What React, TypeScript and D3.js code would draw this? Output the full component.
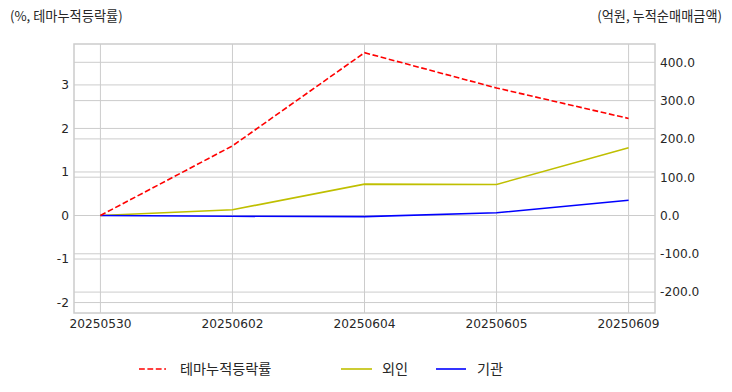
import React from "react";
import * as d3 from "d3";

const categories = ["20250530", "20250602", "20250604", "20250605", "20250609"];
const themeReturn = [0, 1.6, 3.74, 2.93, 2.23];
const foreign = [0, 15, 82, 81, 177];
const institution = [0, -2, -3, 7, 40];
const leftTicks = [-2, -1, 0, 1, 2, 3];
const rightTicks = [-200, -100, 0, 100, 200, 300, 400];
const leftTitle = "(%, 테마누적등락률)";
const rightTitle = "(억원, 누적순매매금액)";
const legendItems = [
  { label: "테마누적등락률", color: "#ff0000", dash: "5.8,2.6" },
  { label: "외인", color: "#bfbf00", dash: "" },
  { label: "기관", color: "#0000ff", dash: "" },
];

const W = 732, H = 392;
const L = 74, R = 655, T = 44, B = 313;
const grid = "#cccccc";
const txt = "#262626";
const numFont = "'DejaVu Sans', sans-serif";
const krFont = "'Noto Sans CJK KR', 'Noto Sans', sans-serif";

export default function App() {
  const x = d3.scaleLinear().domain([-0.2, categories.length - 1 + 0.2]).range([L, R]);
  const yL = d3.scaleLinear().domain([-2.24, 3.94]).range([B, T]);
  const yR = d3.scaleLinear().domain([-254.6, 447.8]).range([B, T]);
  const idx = categories.map((_, i) => i);

  const lineL = d3.line<number>().x((_, i) => x(i)).y((d) => yL(d));
  const lineR = d3.line<number>().x((_, i) => x(i)).y((d) => yR(d));

  const legendPos = [
    { x1: 139, x2: 166, tx: 180 },
    { x1: 341, x2: 372, tx: 382 },
    { x1: 436, x2: 466, tx: 477 },
  ];

  return (
    <svg width={W} height={H} style={{ position: "absolute", left: 0, top: 0, background: "#fff" }}>
      <rect x={0} y={0} width={W} height={H} fill="#fff" />
      {idx.map((i) => (
        <line key={"vx" + i} x1={x(i)} x2={x(i)} y1={T} y2={B} stroke={grid} strokeWidth={1} />
      ))}
      {leftTicks.map((t) => (
        <line key={"gl" + t} x1={L} x2={R} y1={yL(t)} y2={yL(t)} stroke={grid} strokeWidth={1} />
      ))}
      {rightTicks.map((t) => (
        <line key={"gr" + t} x1={L} x2={R} y1={yR(t)} y2={yR(t)} stroke={grid} strokeWidth={1} />
      ))}
      <path d={lineR(foreign) || ""} fill="none" stroke="#bfbf00" strokeWidth={1.6} />
      <path d={lineR(institution) || ""} fill="none" stroke="#0000ff" strokeWidth={1.6} />
      <path d={lineL(themeReturn) || ""} fill="none" stroke="#ff0000" strokeWidth={1.6} strokeDasharray="5.8,2.6" />
      <rect x={L} y={T} width={R - L} height={B - T} fill="none" stroke={grid} strokeWidth={1.5} />
      {leftTicks.map((t) => (
        <text key={"lt" + t} x={L - 5} y={yL(t)} dy="0.36em" textAnchor="end" fontFamily={numFont} fontSize={12.2} fill={txt}>
          {String(t)}
        </text>
      ))}
      {rightTicks.map((t) => (
        <text key={"rt" + t} x={R + 5} y={yR(t)} dy="0.36em" textAnchor="start" fontFamily={numFont} fontSize={12.2} fill={txt}>
          {t.toFixed(1)}
        </text>
      ))}
      {categories.map((c, i) => (
        <text key={"xt" + c} x={x(i)} y={328} textAnchor="middle" fontFamily={numFont} fontSize={12.2} fill={txt}>
          {c}
        </text>
      ))}
      <text x={10} y={21} fontFamily={krFont} fontSize={13.2} fill={txt}>{leftTitle}</text>
      <text x={722} y={21} textAnchor="end" fontFamily={krFont} fontSize={13.2} fill={txt}>{rightTitle}</text>
      {legendItems.map((it, i) => (
        <g key={"lg" + i}>
          <line x1={legendPos[i].x1} x2={legendPos[i].x2} y1={369} y2={369} stroke={it.color} strokeWidth={1.6} strokeDasharray={it.dash || undefined} />
          <text x={legendPos[i].tx} y={369} dy="0.35em" fontFamily={krFont} fontSize={14.2} fill={txt}>{it.label}</text>
        </g>
      ))}
    </svg>
  );
}
